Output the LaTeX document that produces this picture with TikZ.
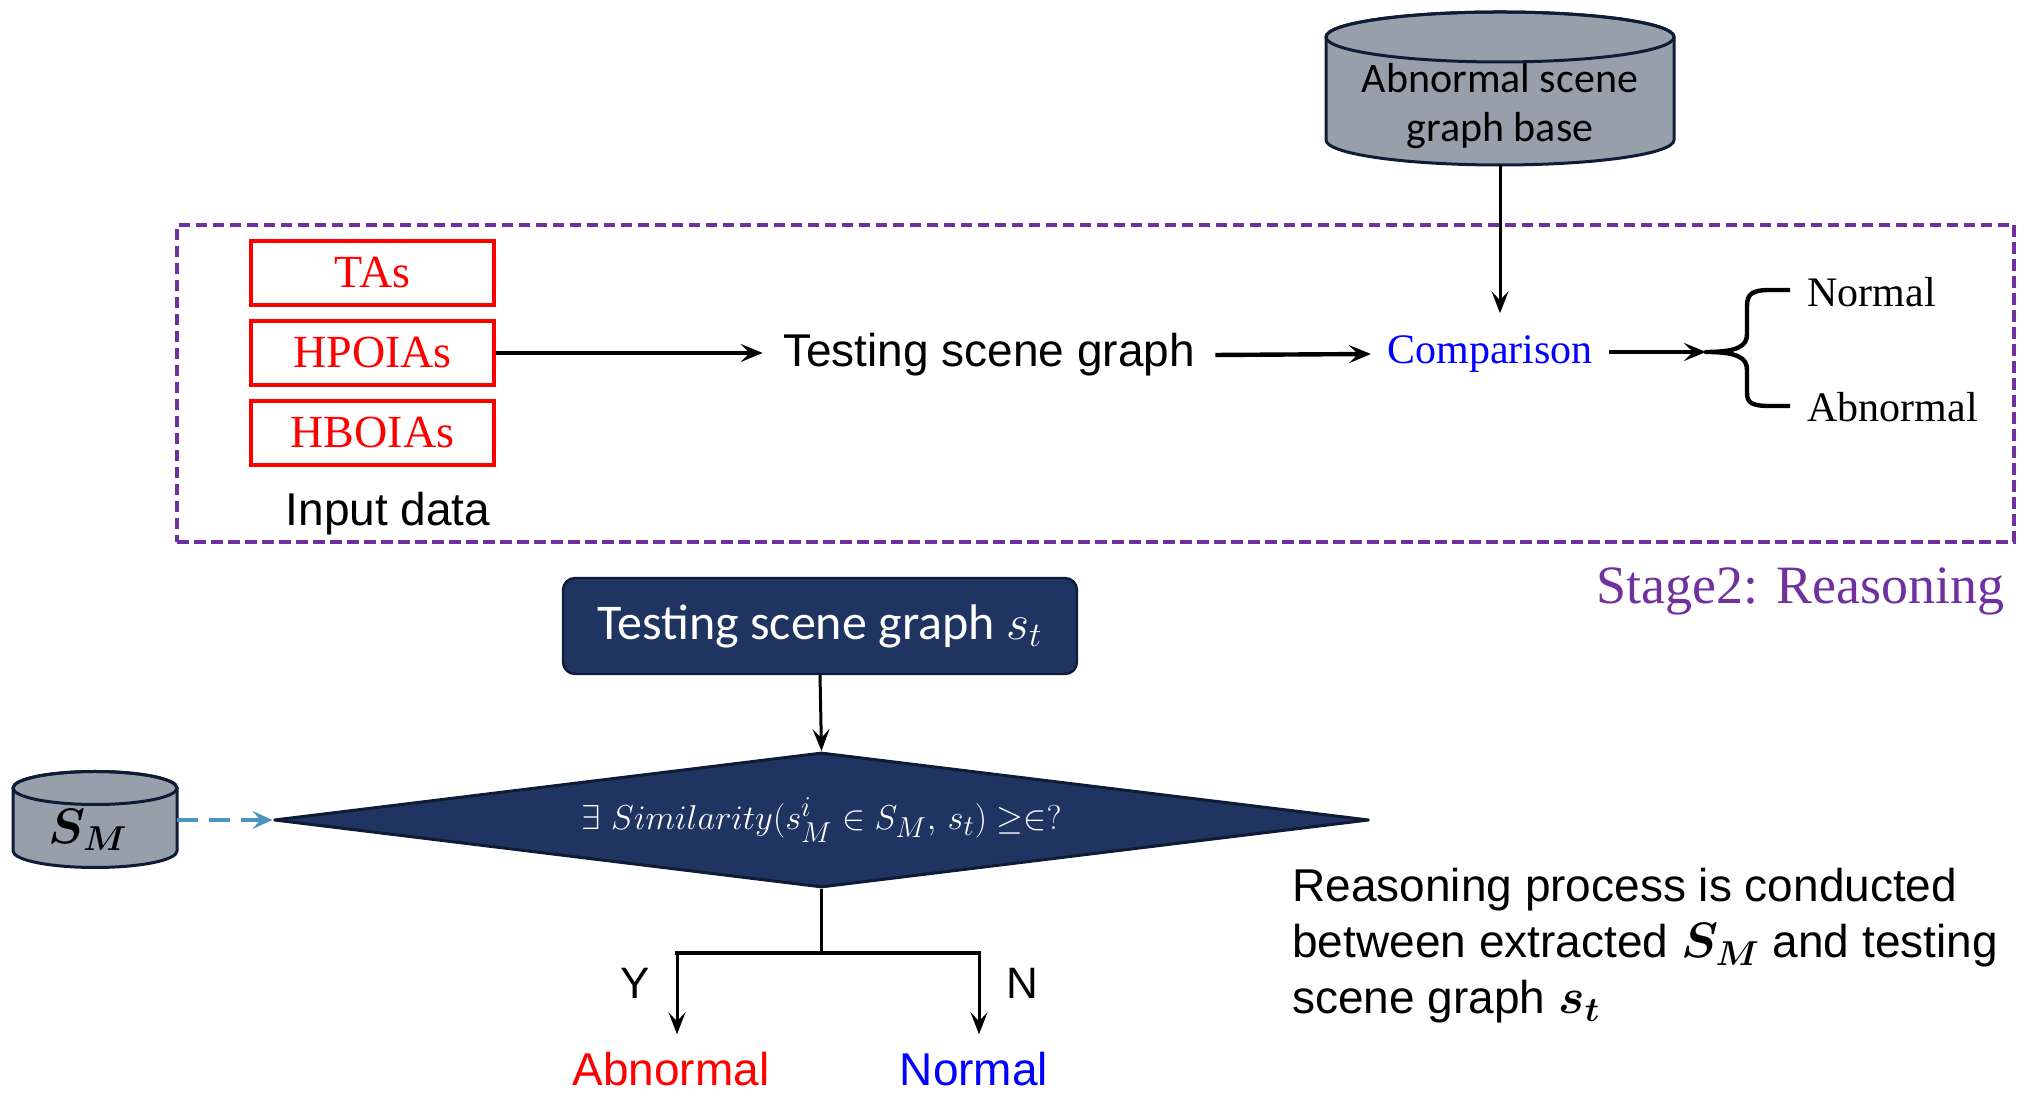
\documentclass[tikz,border=0pt]{standalone}
\usepackage{fontspec}
\setmainfont{Liberation Sans}
\newfontfamily\timesfont{Liberation Serif}
\newfontfamily\gillfont{Carlito}
\usepackage{amsmath,bm}
\usetikzlibrary{arrows.meta,shapes.geometric}

\definecolor{navy}{HTML}{1F3461}
\definecolor{navyline}{HTML}{0F1C38}
\definecolor{cylgray}{HTML}{97A0AA}
\definecolor{stagepurple}{HTML}{7030A0}
\definecolor{dashblue}{HTML}{4A93C2}

\begin{document}
\begin{tikzpicture}[x=0.5pt,y=0.5pt,
  thinarrow/.style={line width=1.5pt,-{Stealth[length=11pt,width=8.5pt,inset=4.5pt]}},
  thickarrow/.style={line width=2.2pt,-{Stealth[length=11pt,width=9pt,inset=4.5pt]}},
  inbox/.style={draw=red,line width=2pt,minimum width=121.5pt,minimum height=32pt,
    inner sep=0pt,text=red,font=\timesfont\fontsize{23}{26}\selectfont},
  arialtext/.style={font=\fontsize{23}{28}\selectfont},
  timestext/.style={font=\timesfont\fontsize{21}{24}\selectfont},
  cylfill/.style={fill=cylgray,draw=navyline,line width=1.5pt},
  navyfill/.style={fill=navy,draw=navyline,text=white}
]
\useasboundingbox (0,0) rectangle (2027,1096);

% ---------- Stage 2 frame ----------
\node[draw=stagepurple,line width=2pt,dash pattern=on 5.75pt off 2.75pt,
  minimum width=918.5pt,minimum height=158.5pt,inner sep=0pt] (stagebox) at (1095.5,712.5) {};
\node[anchor=base east,inner sep=0pt,text=stagepurple,
  font=\timesfont\fontsize{27}{30}\selectfont] (stagelabel) at (2005,492) {Stage2: Reasoning};

% ---------- input data ----------
\node[inbox] (tas) at (372.5,823) {TAs};
\node[inbox] (hpo) at (372.5,743) {HPOIAs};
\node[inbox] (hbo) at (372.5,663) {HBOIAs};
\node[arialtext] (inlabel) at (388,582) {Input data};

% ---------- main row ----------
\node[arialtext,inner xsep=10pt] (tsg) at (989,741) {Testing scene graph};
\node[timestext,text=blue,inner xsep=8pt,inner ysep=11pt] (cmp) at (1490,742) {Comparison};
\draw[thickarrow] (hpo.east) -- (hpo.east -| tsg.west);
\draw[thickarrow] (tsg.east) -- (cmp.west);

% ---------- abnormal scene graph base ----------
\filldraw[cylfill] (1326,1059) -- (1326,956)
  arc[start angle=180,end angle=360,x radius=174,y radius=25] -- (1674,1059)
  arc[start angle=0,end angle=180,x radius=174,y radius=25] -- cycle;
\draw[navyline,line width=1.5pt] (1500,1059) ellipse[x radius=174,y radius=25];
\node[minimum width=174pt,minimum height=76.5pt,inner sep=0pt] (abase) at (1500,1007.5) {};
\node[align=center,font=\gillfont\fontsize{21}{24.5}\selectfont] (abasetext) at (1500,990)
  {Abnormal scene\\graph base};
\draw[thinarrow] (abase.south) -- (abase.south |- cmp.north);

% ---------- decision brace ----------
\coordinate (btip) at (1706,744);
\draw[thickarrow] (cmp.east |- btip) -- (btip);
\draw[line width=2.2pt,line join=round]
  (1790,806) -- (1770,806) .. controls (1752,806) and (1747,802) .. (1747,790)
  -- (1747,762) .. controls (1747,750) and (1738,744) .. (btip)
  .. controls (1738,744) and (1747,738) .. (1747,726)
  -- (1747,703) .. controls (1747,693) and (1752,690) .. (1770,690) -- (1790,690);
\node[timestext,anchor=west,inner sep=0pt] (outn) at (1807,804) {Normal};
\node[timestext,anchor=west,inner sep=0pt] (outa) at (1807,689) {Abnormal};

% ---------- reasoning flow ----------
\node[navyfill,rounded corners=6pt,line width=1.2pt,minimum width=257pt,minimum height=48pt,
  font=\gillfont\fontsize{25}{28}\selectfont] (tsgbox) at (820,470) {Testing scene graph $s_t$};
\node[diamond,aspect=8,navyfill,line width=1.5pt,line join=round,minimum width=547.5pt,
  minimum height=67.5pt,inner sep=0pt,font=\fontsize{19}{21}\selectfont] (test) at (821.5,276)
  {$\exists\ Similarity(s_M^i \in S_M,\, s_t)\geq\in ?$};
\draw[thinarrow] (tsgbox.south) -- (test.north);

% extracted set S_M
\filldraw[cylfill] (13,308) -- (13,245)
  arc[start angle=180,end angle=360,x radius=82,y radius=16.5] -- (177,308)
  arc[start angle=0,end angle=180,x radius=82,y radius=16.5] -- cycle;
\draw[navyline,line width=1.5pt] (95,308) ellipse[x radius=82,y radius=16.5];
\node[minimum width=82pt,minimum height=48pt,inner sep=0pt] (smdb) at (95,276) {};
\node[font=\fontsize{23}{26}\selectfont] (smlabel) at (88,266) {$\bm{S_M}$};
\draw[dashblue,line width=1.8pt,dash pattern=on 10.5pt off 5.5pt,
  -{Stealth[length=10pt,width=9pt,inset=4pt]}] (smdb.east) -- (test.west);

% yes / no branches
\coordinate (split) at (821.5,143);
\coordinate (yb) at (677,143);
\coordinate (nb) at (979,143);
\node[arialtext,anchor=base,text=red,inner ysep=9pt] (resab) at (671,10) {Abnormal};
\node[arialtext,anchor=base,text=blue,inner ysep=9pt] (resno) at (974,10) {Normal};
\draw[line width=1.6pt] (test.south) -- (split);
\draw[line width=2pt,line cap=rect] (yb) -- (nb);
\draw[thinarrow] (yb) -- (yb |- resab.north);
\draw[thinarrow] (nb) -- (nb |- resno.north);
\node[font=\fontsize{22}{26}\selectfont] (ylab) at (635,113) {Y};
\node[font=\fontsize{22}{26}\selectfont] (nlab) at (1022,113) {N};

% note
\node[arialtext,anchor=north west,align=left,inner sep=0pt] (note) at (1292,228)
  {Reasoning process is conducted\\between extracted $\bm{S_M}$ and testing\\scene graph $\bm{s_t}$};
\end{tikzpicture}
\end{document}
